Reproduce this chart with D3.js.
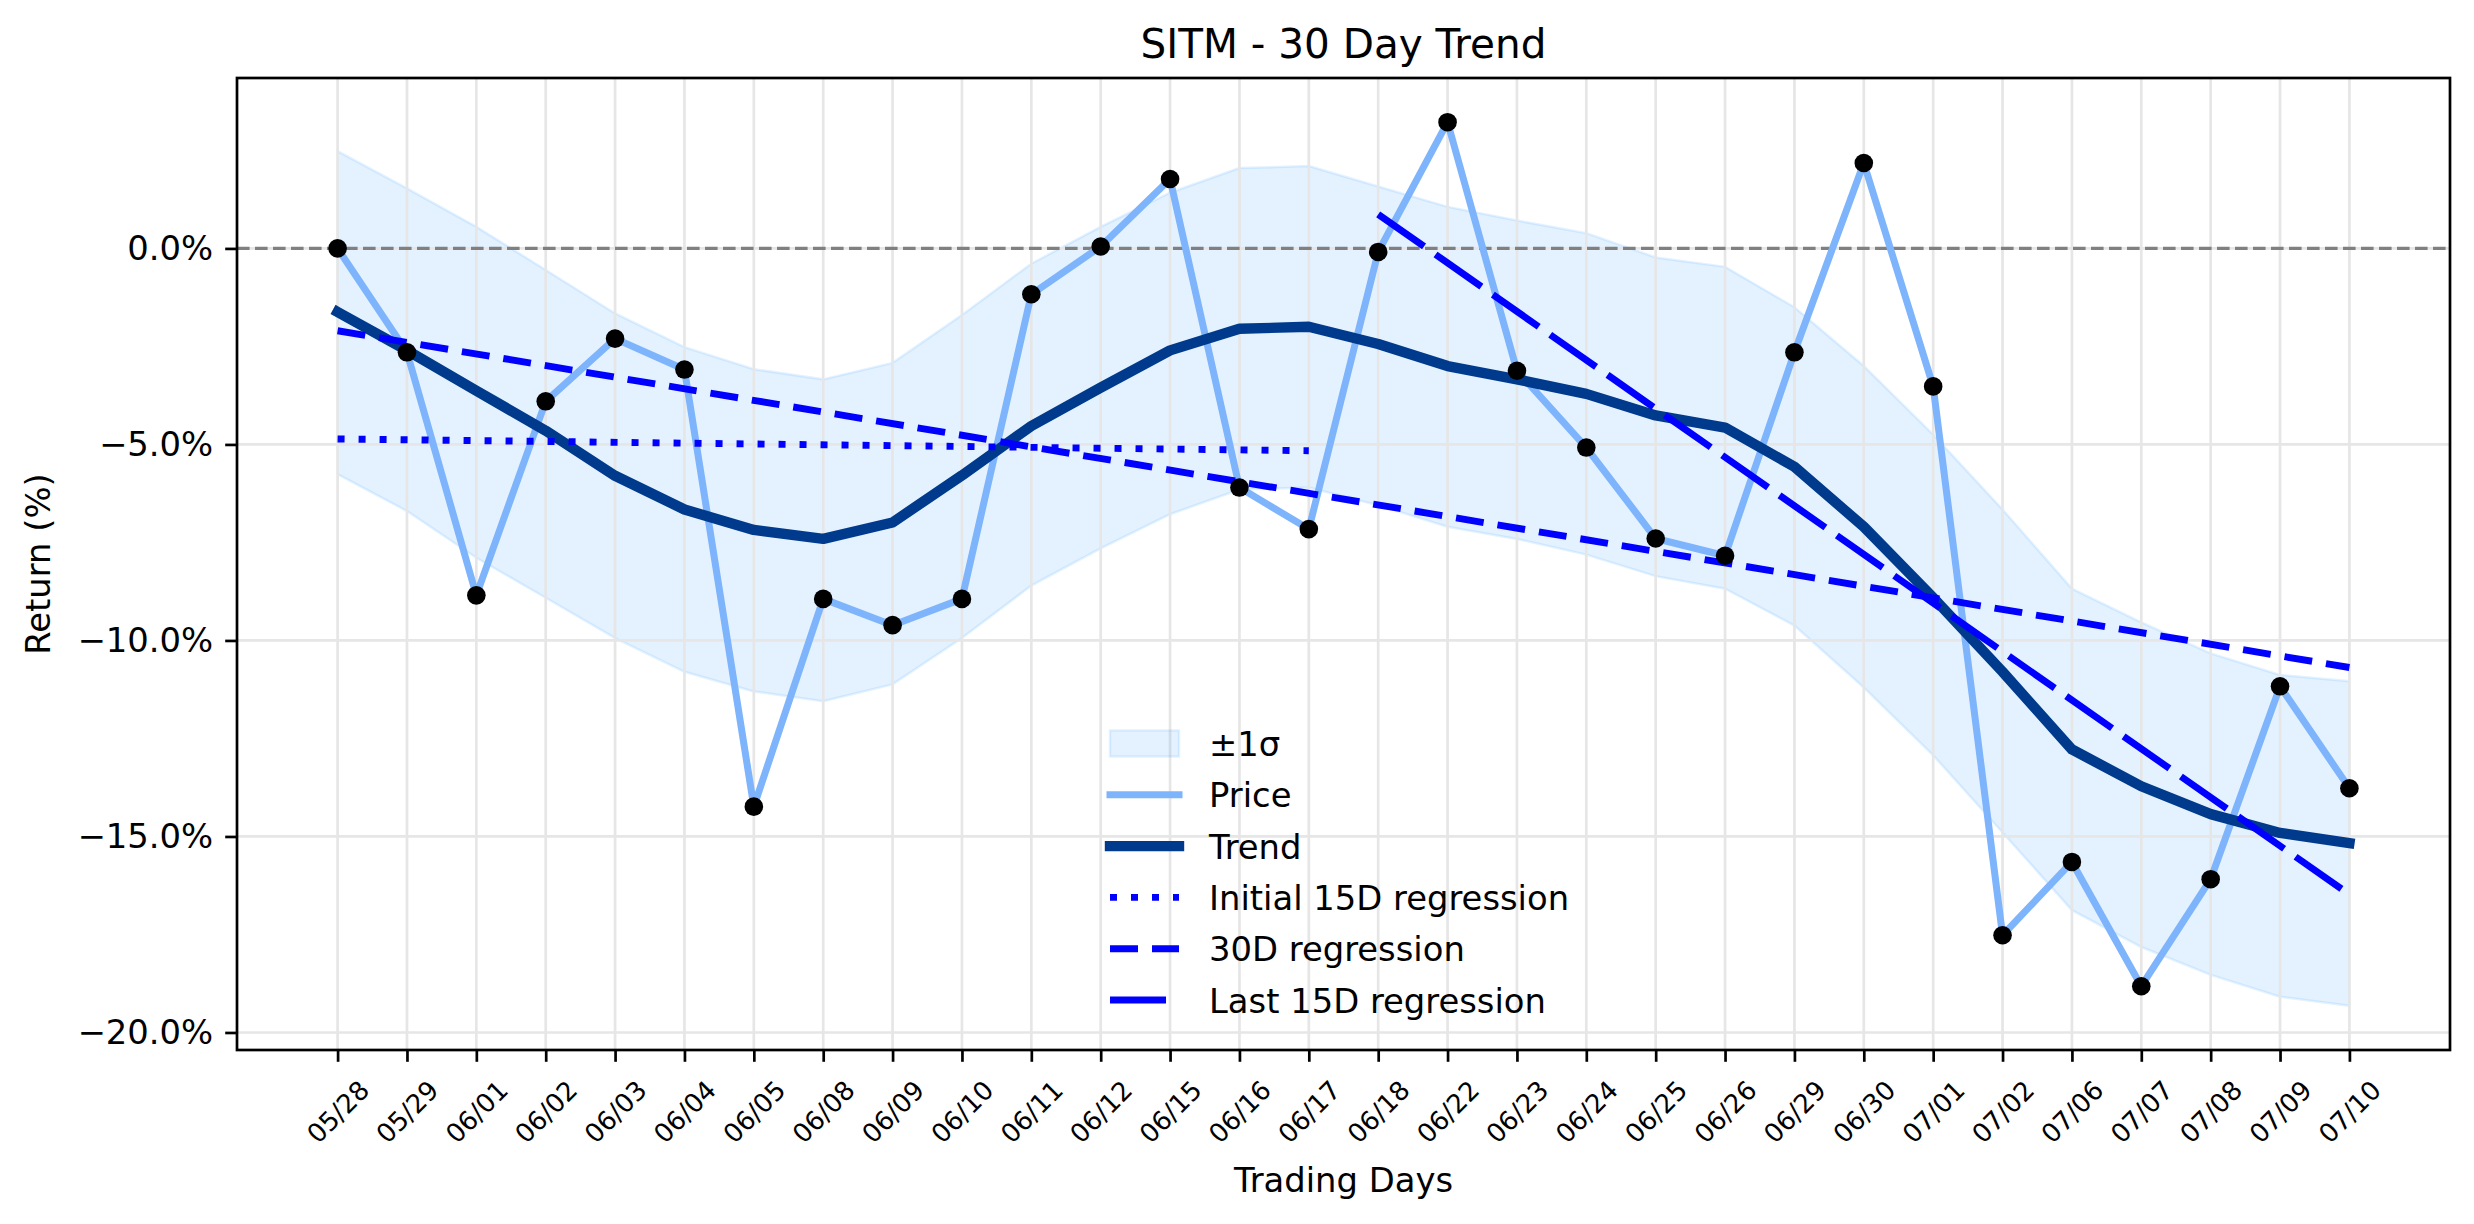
<!DOCTYPE html>
<html>
<head>
<meta charset="utf-8">
<title>SITM - 30 Day Trend</title>
<script src="https://cdn.jsdelivr.net/npm/d3@7"></script>
<style>
  html, body { margin: 0; padding: 0; background: #fff; }
  svg { display: block; font-family: "DejaVu Sans", sans-serif; }
</style>
</head>
<body>
<div id="chart"></div>
<script>
// Data (returns in %)
const dates = ['05/28', '05/29', '06/01', '06/02', '06/03', '06/04', '06/05', '06/08', '06/09', '06/10',
  '06/11', '06/12', '06/15', '06/16', '06/17', '06/18', '06/22', '06/23', '06/24', '06/25',
  '06/26', '06/29', '06/30', '07/01', '07/02', '07/06', '07/07', '07/08', '07/09', '07/10'];

const price = [0.0, -2.65, -8.85, -3.90, -2.30, -3.09, -14.24, -8.94, -9.61, -8.94,
  -1.17, 0.05, 1.77, -6.10, -7.16, -0.09, 3.22, -3.12, -5.08, -7.40,
  -7.84, -2.65, 2.18, -3.52, -17.52, -15.65, -18.82, -16.09, -11.17, -13.77];

const trend = [-1.62, -2.60, -3.63, -4.65, -5.80, -6.66, -7.18, -7.41, -6.99, -5.79,
  -4.53, -3.55, -2.60, -2.05, -2.00, -2.44, -3.00, -3.34, -3.71, -4.26,
  -4.57, -5.57, -7.10, -8.91, -10.80, -12.78, -13.72, -14.43, -14.91, -15.17];

const bandUpper = [2.48, 1.53, 0.55, -0.55, -1.66, -2.52, -3.08, -3.34, -2.92, -1.70,
  -0.39, 0.55, 1.42, 2.05, 2.10, 1.58, 1.06, 0.71, 0.39, -0.23,
  -0.47, -1.50, -3.00, -4.75, -6.66, -8.68, -9.54, -10.33, -10.88, -11.04];

const bandLower = [-5.76, -6.70, -7.89, -8.91, -9.94, -10.80, -11.30, -11.55, -11.12, -9.94,
  -8.60, -7.65, -6.78, -6.15, -6.10, -6.55, -7.10, -7.41, -7.81, -8.36,
  -8.68, -9.62, -11.20, -12.93, -14.90, -16.88, -17.82, -18.53, -19.09, -19.32];

// regression segments: day index at each end, value at each end
const initialRegIdx = [0, 14];
const initialRegVal = [-4.86, -5.16];
const reg30Idx = [0, 29];
const reg30Val = [-2.10, -10.69];
const lastRegIdx = [15, 29];
const lastRegVal = [0.87, -16.48];

const yTicks = [-20, -15, -10, -5, 0];
const legendLabels = ['±1σ', 'Price', 'Trend', 'Initial 15D regression', '30D regression', 'Last 15D regression'];

function drawChart() {
  const width = 2474;
  const height = 1224;
  const plot = { left: 237, right: 2450, top: 78, bottom: 1050 };

  const svg = d3.select('#chart')
    .append('svg')
    .attr('width', width)
    .attr('height', height);

  const n = dates.length;
  const xPad = (n - 1) * 0.05;
  const x = d3.scaleLinear()
    .domain([-xPad, n - 1 + xPad])
    .range([plot.left, plot.right]);

  const yMin = d3.min([d3.min(price), d3.min(bandLower), d3.min(trend)]);
  const yMax = d3.max([d3.max(price), d3.max(bandUpper), d3.max(trend)]);
  const yPad = (yMax - yMin) * 0.05;
  const y = d3.scaleLinear()
    .domain([yMin - yPad, yMax + yPad])
    .range([plot.bottom, plot.top]);

  const bandFill = 'rgba(30,144,255,0.12)';
  const priceColor = '#7db4fc';
  const trendColor = '#003a8c';
  const regColor = '#0000ff';
  const gridColor = '#e6e6e6';

  svg.append('defs').append('clipPath').attr('id', 'plot-clip')
    .append('rect')
    .attr('x', plot.left).attr('y', plot.top)
    .attr('width', plot.right - plot.left).attr('height', plot.bottom - plot.top);

  const body = svg.append('g').attr('clip-path', 'url(#plot-clip)');
  const idx = d3.range(n);

  // ±1σ band
  const area = d3.area()
    .x((i) => x(i))
    .y0((i) => y(bandLower[i]))
    .y1((i) => y(bandUpper[i]));
  body.append('path')
    .attr('d', area(idx))
    .attr('fill', bandFill)
    .attr('stroke', bandFill)
    .attr('stroke-width', 2.5);

  // grid
  body.append('g')
    .selectAll('line.vgrid')
    .data(idx)
    .join('line')
    .attr('x1', (i) => x(i)).attr('x2', (i) => x(i))
    .attr('y1', plot.top).attr('y2', plot.bottom)
    .attr('stroke', gridColor).attr('stroke-width', 2.7);
  body.append('g')
    .selectAll('line.hgrid')
    .data(yTicks)
    .join('line')
    .attr('x1', plot.left).attr('x2', plot.right)
    .attr('y1', (d) => y(d)).attr('y2', (d) => y(d))
    .attr('stroke', gridColor).attr('stroke-width', 2.7);

  // zero line
  body.append('line')
    .attr('x1', plot.left).attr('x2', plot.right)
    .attr('y1', y(0)).attr('y2', y(0))
    .attr('stroke', '#808080')
    .attr('stroke-width', 3.4)
    .attr('stroke-dasharray', '12.6 5.4');

  const line = d3.line().x((i) => x(i));

  // price
  body.append('path')
    .attr('d', line.y((i) => y(price[i]))(idx))
    .attr('fill', 'none')
    .attr('stroke', priceColor)
    .attr('stroke-width', 7)
    .attr('stroke-linejoin', 'round')
    .attr('stroke-linecap', 'square');

  // trend
  body.append('path')
    .attr('d', d3.line().x((i) => x(i)).y((i) => y(trend[i]))(idx))
    .attr('fill', 'none')
    .attr('stroke', trendColor)
    .attr('stroke-width', 10.4)
    .attr('stroke-linejoin', 'round')
    .attr('stroke-linecap', 'square');

  // regression lines
  const regs = [
    { xs: initialRegIdx, ys: initialRegVal, dash: '7 14' },
    { xs: reg30Idx, ys: reg30Val, dash: '28 14' },
    { xs: lastRegIdx, ys: lastRegVal, dash: '56 14' },
  ];
  body.append('g')
    .selectAll('line')
    .data(regs)
    .join('line')
    .attr('x1', (d) => x(d.xs[0])).attr('x2', (d) => x(d.xs[1]))
    .attr('y1', (d) => y(d.ys[0])).attr('y2', (d) => y(d.ys[1]))
    .attr('stroke', regColor)
    .attr('stroke-width', 6.9)
    .attr('stroke-dasharray', (d) => d.dash);

  // price markers
  body.append('g')
    .selectAll('circle')
    .data(idx)
    .join('circle')
    .attr('cx', (i) => x(i))
    .attr('cy', (i) => y(price[i]))
    .attr('r', 9.3)
    .attr('fill', '#000');

  // axes
  const fmt = (d) => (d < 0 ? '\u2212' : '') + Math.abs(d).toFixed(1) + '%';
  const yAxis = svg.append('g')
    .attr('transform', `translate(${plot.left},0)`)
    .call(d3.axisLeft(y).tickValues(yTicks).tickFormat(fmt).tickSize(11.8).tickPadding(12));
  yAxis.select('.domain').remove();
  yAxis.selectAll('.tick line').attr('stroke-width', 2.7);
  yAxis.selectAll('.tick text')
    .attr('font-size', 33.8)
    .attr('font-family', 'DejaVu Sans')
    .attr('fill', '#000');

  const xAxis = svg.append('g')
    .attr('transform', `translate(0,${plot.bottom})`)
    .call(d3.axisBottom(x).tickValues(idx).tickFormat((i) => dates[i]).tickSize(11.8));
  xAxis.select('.domain').remove();
  xAxis.selectAll('.tick line').attr('stroke-width', 2.7);
  xAxis.selectAll('.tick text')
    .attr('font-size', 26)
    .attr('font-family', 'DejaVu Sans')
    .attr('fill', '#000')
    .attr('y', 0)
    .attr('dy', null)
    .attr('text-anchor', 'middle')
    .attr('dominant-baseline', 'central')
    .attr('transform', 'translate(0,62) rotate(-45)');

  // spines
  svg.append('rect')
    .attr('x', plot.left).attr('y', plot.top)
    .attr('width', plot.right - plot.left).attr('height', plot.bottom - plot.top)
    .attr('fill', 'none')
    .attr('stroke', '#000')
    .attr('stroke-width', 2.7);

  // titles
  svg.append('text')
    .attr('x', (plot.left + plot.right) / 2)
    .attr('y', 58)
    .attr('text-anchor', 'middle')
    .attr('font-size', 40.5)
    .text('SITM - 30 Day Trend');

  svg.append('text')
    .attr('x', (plot.left + plot.right) / 2)
    .attr('y', 1192)
    .attr('text-anchor', 'middle')
    .attr('font-size', 33.8)
    .text('Trading Days');

  svg.append('text')
    .attr('transform', `translate(50,${(plot.top + plot.bottom) / 2}) rotate(-90)`)
    .attr('text-anchor', 'middle')
    .attr('font-size', 33.8)
    .text('Return (%)');

  // legend (no frame)
  const legend = svg.append('g').attr('transform', 'translate(1110,743.5)');
  const rowH = 51.3;
  const handleW = 69;
  const handles = [
    { type: 'patch' },
    { type: 'line', color: priceColor, w: 7, cap: 'square' },
    { type: 'line', color: trendColor, w: 10.4, cap: 'square' },
    { type: 'line', color: regColor, w: 6.9, dash: '7 14' },
    { type: 'line', color: regColor, w: 6.9, dash: '28 14' },
    { type: 'line', color: regColor, w: 6.9, dash: '56 14' },
  ];
  const rows = legend.selectAll('g')
    .data(legendLabels)
    .join('g')
    .attr('transform', (d, i) => `translate(0,${i * rowH})`);

  rows.each(function (d, i) {
    const g = d3.select(this);
    const h = handles[i];
    if (h.type === 'patch') {
      g.append('rect')
        .attr('x', 0).attr('y', -13)
        .attr('width', handleW).attr('height', 26)
        .attr('fill', bandFill)
        .attr('stroke', bandFill)
        .attr('stroke-width', 2.5);
    } else {
      g.append('line')
        .attr('x1', 0).attr('x2', handleW)
        .attr('y1', 0).attr('y2', 0)
        .attr('stroke', h.color)
        .attr('stroke-width', h.w)
        .attr('stroke-linecap', h.cap || 'butt')
        .attr('stroke-dasharray', h.dash || null);
    }
    g.append('text')
      .attr('x', 99)
      .attr('y', 12.5)
      .attr('font-size', 33.8)
      .text(d);
  });
}

drawChart();
</script>
</body>
</html>
